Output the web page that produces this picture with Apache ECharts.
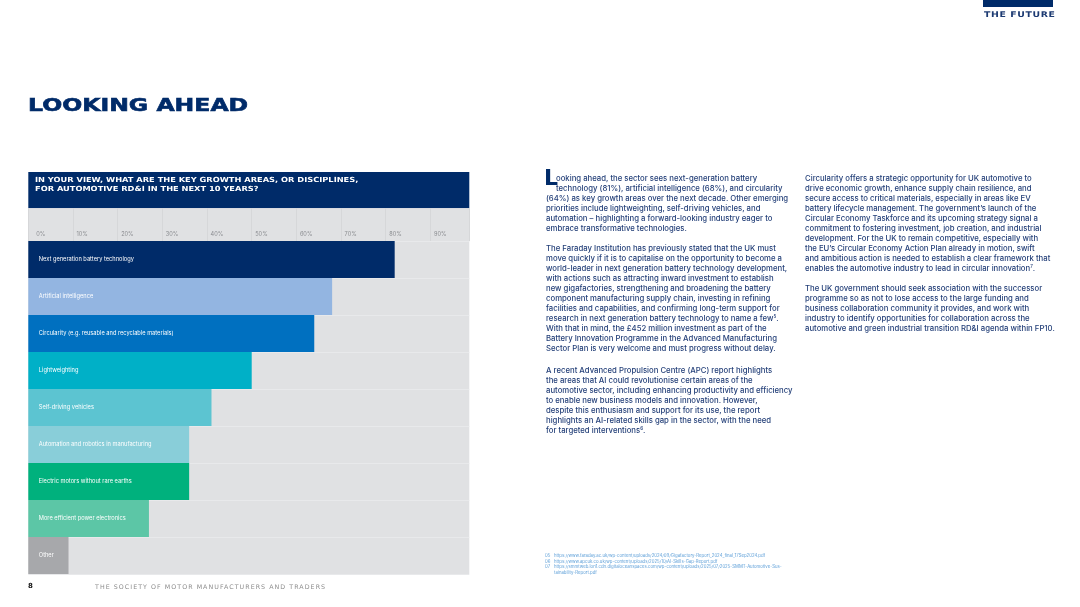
<!DOCTYPE html>
<html>
<head>
<meta charset="utf-8">
<title>Looking ahead</title>
<script src="https://cdn.jsdelivr.net/npm/echarts@6/dist/echarts.min.js"></script>
<style>
  html, body { margin: 0; padding: 0; background: #fff; }
  #page { position: relative; width: 1080px; height: 607px; overflow: hidden; }
  #chart { position: absolute; left: 0; top: 0; width: 1080px; height: 607px; }
  .abs { position: absolute; white-space: nowrap; }
  .prose { font-family: Inter, "Noto Sans", sans-serif; font-size: 7.75px; font-weight: 500; line-height: 10px; color: #233f78; }
  .prose sup { font-size: 4.5px; vertical-align: 3px; line-height: 0; }
  .wide { font-family: "DejaVu Sans", sans-serif; font-weight: bold; transform-origin: left top; }
  .notes { font-family: Inter, sans-serif; font-size: 4.3px; line-height: 5.5px; color: #5d9fd8; }
</style>
</head>
<body>
<div id="page">
  <div id="chart"></div>

  <div class="abs" style="left:983px;top:0;width:70px;height:7px;background:#002b69;"></div>
  <div class="abs wide" style="left:984px;top:10px;font-size:7.8px;color:#1c3a72;letter-spacing:0.5px;transform:scaleX(1.2);">THE FUTURE</div>

  <div class="abs wide" style="left:28px;top:95px;font-size:17.5px;color:#002b69;transform:scaleX(1.345);-webkit-text-stroke:0.6px #002b69;">LOOKING AHEAD</div>

  <!-- column 1 -->
  <div class="abs" style="left:544px;top:167px;font-family:'DejaVu Sans',sans-serif;font-weight:bold;font-size:22px;line-height:22px;color:#002b69;">L</div>
  <div class="abs prose" style="left:546px;top:173px;">
    <span style="padding-left:10px">ooking ahead, the sector sees next-generation battery</span><br>
    <span style="padding-left:10px">technology (81%), artificial intelligence (68%), and circularity</span><br>
    (64%) as key growth areas over the next decade. Other emerging<br>
    priorities include lightweighting, self-driving vehicles, and<br>
    automation – highlighting a forward-looking industry eager to<br>
    embrace transformative technologies.
  </div>
  <div class="abs prose" style="left:546px;top:243px;">
    The Faraday Institution has previously stated that the UK must<br>
    move quickly if it is to capitalise on the opportunity to become a<br>
    world-leader in next generation battery technology development,<br>
    with actions such as attracting inward investment to establish<br>
    new gigafactories, strengthening and broadening the battery<br>
    component manufacturing supply chain, investing in refining<br>
    facilities and capabilities, and confirming long-term support for<br>
    research in next generation battery technology to name a few<sup>5</sup>.<br>
    With that in mind, the £452 million investment as part of the<br>
    Battery Innovation Programme in the Advanced Manufacturing<br>
    Sector Plan is very welcome and must progress without delay.
  </div>
  <div class="abs prose" style="left:546px;top:365px;">
    A recent Advanced Propulsion Centre (APC) report highlights<br>
    the areas that AI could revolutionise certain areas of the<br>
    automotive sector, including enhancing productivity and efficiency<br>
    to enable new business models and innovation. However,<br>
    despite this enthusiasm and support for its use, the report<br>
    highlights an AI-related skills gap in the sector, with the need<br>
    for targeted interventions<sup>6</sup>.
  </div>

  <!-- column 2 -->
  <div class="abs prose" style="left:805px;top:173px;">
    Circularity offers a strategic opportunity for UK automotive to<br>
    drive economic growth, enhance supply chain resilience, and<br>
    secure access to critical materials, especially in areas like EV<br>
    battery lifecycle management. The government’s launch of the<br>
    Circular Economy Taskforce and its upcoming strategy signal a<br>
    commitment to fostering investment, job creation, and industrial<br>
    development. For the UK to remain competitive, especially with<br>
    the EU’s Circular Economy Action Plan already in motion, swift<br>
    and ambitious action is needed to establish a clear framework that<br>
    enables the automotive industry to lead in circular innovation<sup>7</sup>.
  </div>
  <div class="abs prose" style="left:805px;top:283px;">
    The UK government should seek association with the successor<br>
    programme so as not to lose access to the large funding and<br>
    business collaboration community it provides, and work with<br>
    industry to identify opportunities for collaboration across the<br>
    automotive and green industrial transition RD&amp;I agenda within FP10.
  </div>

  <!-- footnotes -->
  <div class="abs notes" style="left:545px;top:553px;">05<br>06<br>07</div>
  <div class="abs notes" style="left:554px;top:553px;">
    https://www.faraday.ac.uk/wp-content/uploads/2024/09/Gigafactory-Report_2024_final_17Sep2024.pdf<br>
    https://www.apcuk.co.uk/wp-content/uploads/2025/10/AI-Skills-Gap-Report.pdf<br>
    https://smmtweb.lon1.cdn.digitaloceanspaces.com/wp-content/uploads/2025/07/2025-SMMT-Automotive-Sus-<br>
    tainability-Report.pdf
  </div>

  <!-- footer -->
  <div class="abs wide" style="left:28px;top:582px;font-size:7px;color:#111;">8</div>
  <div class="abs wide" style="left:95px;top:583px;font-size:6.3px;font-weight:normal;color:#8c8c8c;letter-spacing:1.05px;">THE SOCIETY OF MOTOR MANUFACTURERS AND TRADERS</div>
</div>

<script>
// 数据
var categories = [
    'Next generation battery technology',
    'Artificial intelligence',
    'Circularity (e.g. reusable and recyclable materials)',
    'Lightweighting',
    'Self-driving vehicles',
    'Automation and robotics in manufacturing',
    'Electric motors without rare earths',
    'More efficient power electronics',
    'Other'
];
var shares = [82, 68, 64, 50, 41, 36, 36, 27, 9];
var barColors = ['#002b69', '#93b5e1', '#0070c0', '#00b0c7', '#5cc4d1', '#89ced9', '#00b17d', '#5cc6a6', '#a7a8ab'];
var tickLabels = ['0%', '10%', '20%', '30%', '40%', '50%', '60%', '70%', '80%', '90%'];
var question = 'IN YOUR VIEW, WHAT ARE THE KEY GROWTH AREAS, OR DISCIPLINES,\nFOR AUTOMOTIVE RD&I IN THE NEXT 10 YEARS?';

(function () {
    var chart = echarts.init(document.getElementById('chart'), null, {renderer: 'canvas'});
    var panelLeft = 28.3, panelWidth = 441, axisMax = 98.7;

    var barData = shares.map(function (v, i) {
        return {value: v, itemStyle: {color: barColors[i]}};
    });

    chart.setOption({
        animation: false,
        graphic: [
            {type: 'rect', z: -10, shape: {x: panelLeft, y: 172, width: panelWidth, height: 36.3}, style: {fill: '#002b69'}},
            {type: 'rect', z: -10, shape: {x: panelLeft, y: 208.3, width: panelWidth, height: 365.7}, style: {fill: '#e0e1e3'}},
            {
                type: 'text', x: 35, y: 176.3, scaleX: 1.18,
                style: {
                    text: question, fill: '#fff', lineHeight: 8.5,
                    font: 'bold 7px "DejaVu Sans", sans-serif'
                }
            }
        ],
        grid: [
            {left: panelLeft, top: 241, width: panelWidth, height: 333},
            {left: panelLeft, top: 208.3, width: panelWidth, height: 32.7}
        ],
        xAxis: [
            {
                type: 'value', gridIndex: 0, min: 0, max: axisMax, interval: 10,
                axisLine: {show: false}, axisTick: {show: false}, axisLabel: {show: false},
                splitLine: {show: false}
            },
            {
                type: 'value', gridIndex: 1, min: 0, max: axisMax, interval: 10, position: 'bottom',
                axisLine: {show: false}, axisTick: {show: false},
                axisLabel: {
                    inside: true, margin: 4, align: 'left', showMaxLabel: false,
                    color: '#8a8c90', fontSize: 5.6, fontFamily: 'Inter, sans-serif',
                    formatter: function (v) {
                        var i = Math.round(v / 10);
                        return i === 0 ? '{first|' + tickLabels[0] + '}' : '{rest|' + (tickLabels[i] || '') + '}';
                    },
                    rich: {
                        first: {padding: [0, 0, 0, 8], color: '#8a8c90', fontSize: 5.6},
                        rest: {padding: [0, 0, 0, 3.5], color: '#8a8c90', fontSize: 5.6}
                    }
                },
                splitLine: {show: true, lineStyle: {color: '#d6d7d9', width: 1}}
            }
        ],
        yAxis: [
            {
                type: 'category', gridIndex: 0, data: categories, inverse: true,
                axisLine: {show: false}, axisTick: {show: false}, axisLabel: {show: false},
                splitLine: {show: true, lineStyle: {color: '#e8e9eb', width: 1}}
            },
            {
                type: 'value', gridIndex: 1, min: 0, max: 1, show: false
            }
        ],
        series: [
            {
                type: 'bar', xAxisIndex: 0, yAxisIndex: 0,
                data: barData, barWidth: '100%', barCategoryGap: 0,
                label: {
                    show: true, position: 'insideLeft', distance: 10.5,
                    formatter: '{b}', color: '#fff', fontSize: 5.7,
                    fontFamily: 'Inter, sans-serif'
                }
            },
            {
                type: 'bar', xAxisIndex: 1, yAxisIndex: 1, data: []
            }
        ]
    });
})();
</script>
</body>
</html>
